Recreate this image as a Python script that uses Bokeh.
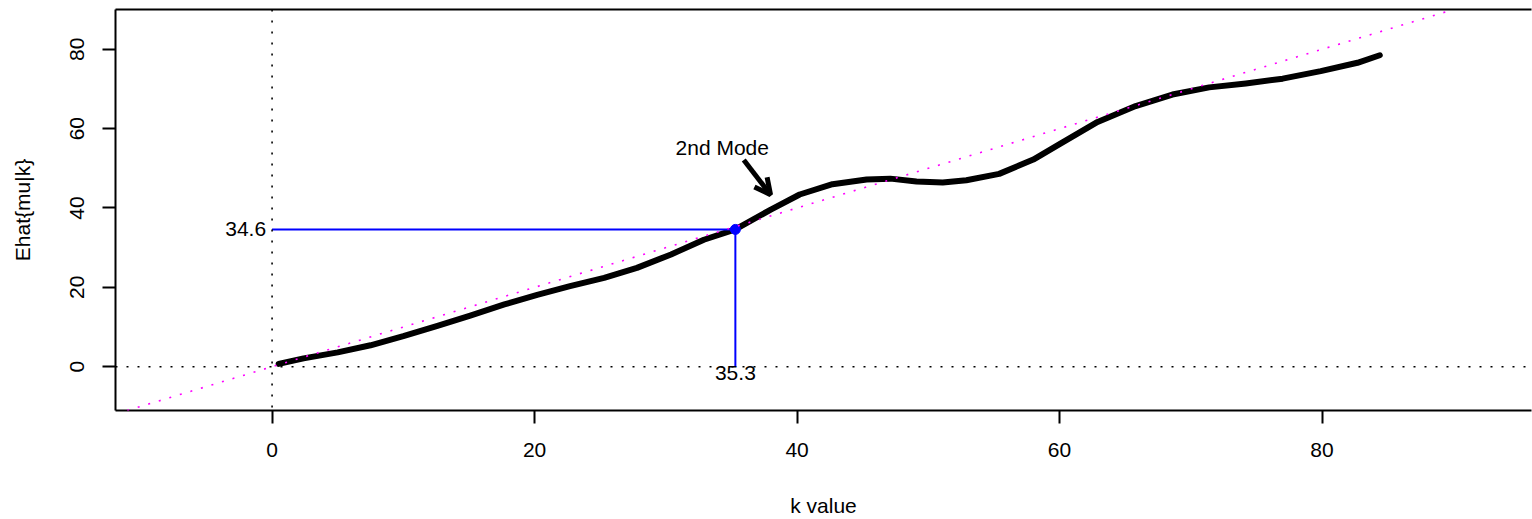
from bokeh.plotting import figure
from bokeh.models import Range1d, FixedTicker, LinearAxis, Arrow, OpenHead, Span, Slope
from bokeh.core.properties import value
from bokeh.embed import file_html
from bokeh.resources import INLINE

# ---- data ----
k_values = [0.5, 2.4, 5.0, 7.5, 10.0, 12.6, 15.1, 17.7, 20.2, 22.7, 25.3, 27.8, 30.4,
            32.9, 35.3, 38.0, 40.2, 42.7, 45.3, 47.1, 49.1, 51.1, 52.9, 55.4, 58.0,
            60.1, 62.9, 65.8, 68.6, 71.4, 74.2, 77.0, 79.9, 82.7, 84.4]
mu_hat = [0.7, 2.1, 3.6, 5.4, 7.7, 10.3, 12.9, 15.7, 18.1, 20.3, 22.4, 24.9, 28.3,
          32.0, 34.6, 39.6, 43.4, 46.0, 47.2, 47.4, 46.7, 46.4, 47.0, 48.6, 52.2,
          56.3, 61.7, 65.7, 68.6, 70.4, 71.4, 72.6, 74.5, 76.6, 78.5]
mode_k = 35.3
mode_val = 34.6
x_ticks = [0, 20, 40, 60, 80]
y_ticks = [0, 20, 40, 60, 80]
annot_text = "2nd Mode"
annot_pos = (34.3, 55.2)
arrow_tail = (35.94, 52.1)
arrow_tip = (37.98, 43.35)

FONT = "Liberation Sans"
FS = "21px"

p = figure(width=1532, height=519, output_backend="svg", toolbar_location=None,
           x_range=Range1d(-11.93, 95.96), y_range=Range1d(-11.04, 90.03),
           min_border_left=115, min_border_right=1, min_border_top=9,
           min_border_bottom=107, x_axis_label="k value", y_axis_label="Ehat{mu|k}")
p.outline_line_color = None
p.grid.visible = False
p.background_fill_color = "white"
p.border_fill_color = "white"

for ax, ticks in ((p.xaxis[0], x_ticks), (p.yaxis[0], y_ticks)):
    ax.ticker = FixedTicker(ticks=ticks)
    ax.axis_line_width = 2
    ax.axis_line_color = "black"
    ax.major_tick_line_width = 2
    ax.major_tick_line_color = "black"
    ax.major_tick_out = 13
    ax.major_tick_in = 0
    ax.minor_tick_line_color = None
    ax.major_label_text_font = FONT
    ax.major_label_text_font_size = FS
    ax.major_label_text_color = "black"
    ax.axis_label_text_font = FONT
    ax.axis_label_text_font_size = FS
    ax.axis_label_text_font_style = "normal"
    ax.axis_label_text_color = "black"

p.xaxis[0].major_label_standoff = 19
p.xaxis[0].axis_label_standoff = 34
p.yaxis[0].major_label_orientation = "parallel"
p.yaxis[0].major_label_standoff = 18
p.yaxis[0].axis_label_standoff = 34

top = LinearAxis(ticker=FixedTicker(ticks=[]), axis_line_width=2, axis_line_color="black",
                 major_tick_line_color=None, minor_tick_line_color=None,
                 major_label_text_font_size="0px")
p.add_layout(top, "above")

# reference dotted lines
p.add_layout(Span(location=0, dimension="height", line_color="black",
                  line_dash="2 9", line_width=1.6))
p.add_layout(Span(location=0, dimension="width", line_color="black",
                  line_dash="2 9", line_width=1.6))

# curve
p.line(k_values, mu_hat, line_width=6, line_color="black",
       line_cap="round", line_join="round")

# identity line
p.add_layout(Slope(gradient=1, y_intercept=0, line_color="#FF00FF",
                   line_dash="2 9", line_width=1.6))

# mode marker
p.segment(x0=[0, mode_k], y0=[mode_val, mode_val], x1=[mode_k, mode_k], y1=[mode_val, 0],
          line_color="#0000FF", line_width=2)
p.scatter([mode_k], [mode_val], size=10, color="#0000FF")

p.text(x=[0], y=[mode_val], text=[f"{mode_val:.1f}"], text_align="right",
       text_baseline="middle", x_offset=-6, text_font=value(FONT),
       text_font_size=FS, text_color="black")
p.text(x=[mode_k], y=[0], text=[f"{mode_k:.1f}"], text_align="center",
       text_baseline="top", y_offset=-1, text_font=value(FONT),
       text_font_size=FS, text_color="black")
p.text(x=[annot_pos[0]], y=[annot_pos[1]], text=[annot_text], text_align="center",
       text_baseline="middle", text_font=value(FONT), text_font_size=FS,
       text_color="black")

p.add_layout(Arrow(end=OpenHead(size=16, line_width=5, line_color="black"),
                   x_start=arrow_tail[0], y_start=arrow_tail[1],
                   x_end=arrow_tip[0], y_end=arrow_tip[1],
                   line_width=5, line_color="black"))

open("out.html", "w").write(file_html(p, INLINE))
